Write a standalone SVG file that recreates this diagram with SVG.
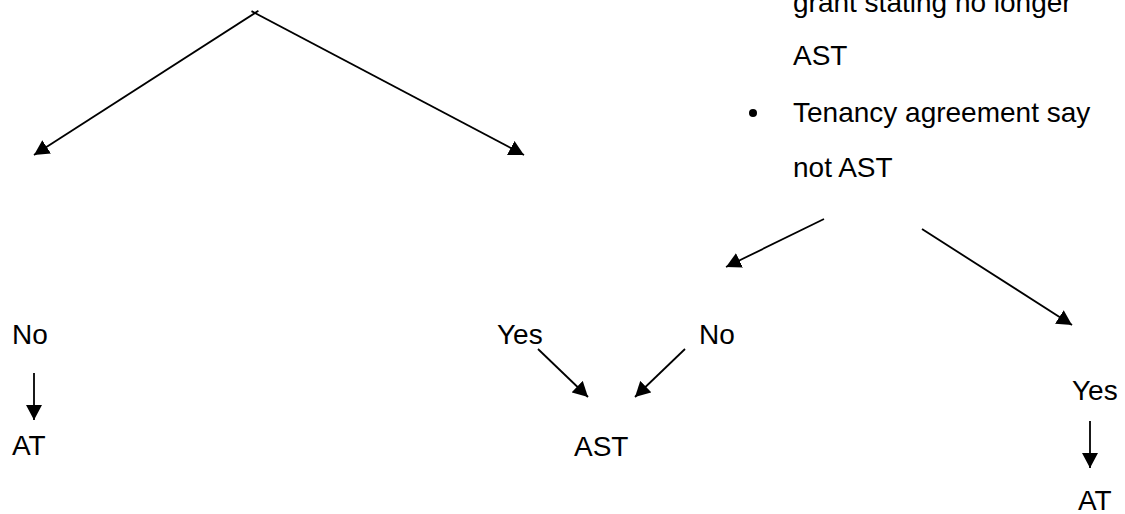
<svg xmlns="http://www.w3.org/2000/svg" width="1125" height="514" viewBox="0 0 1125 514">
<style>
text{font-family:"Liberation Sans",Arial,sans-serif;font-size:28px;fill:#000}
.c{stroke:#000;stroke-width:1.8;fill:none}
.a{marker-end:url(#ah)}
</style>
<defs>
<marker id="ah" markerUnits="userSpaceOnUse" markerWidth="16" markerHeight="17" refX="15" refY="8" orient="auto" viewBox="0 0 16 16">
<path d="M0,0 L15,8 L0,16 z" fill="#000"/>
</marker>
</defs>
<rect width="1125" height="514" fill="#fff"/>
<g id="connectors">
<line class="c a" x1="258.4" y1="10.8" x2="34" y2="155"/>
<line class="c a" x1="251.5" y1="11.1" x2="524" y2="155"/>
<line class="c a" x1="824" y1="219" x2="726" y2="267"/>
<line class="c a" x1="922" y1="229" x2="1072" y2="325"/>
<line class="c a" x1="34" y1="373" x2="34" y2="420"/>
<line class="c a" x1="538" y1="349" x2="588" y2="397"/>
<line class="c a" x1="685" y1="349" x2="635" y2="397"/>
<line class="c a" x1="1090" y1="421" x2="1090" y2="468"/>
</g>
<g id="conditions">
<text x="793" y="12">grant stating no longer</text>
<text x="793" y="65">AST</text>
<circle cx="753" cy="113" r="4" fill="#000"/>
<text x="793" y="122">Tenancy agreement say</text>
<text x="793" y="177">not AST</text>
</g>
<g id="left-no"><text x="12" y="344">No</text></g>
<g id="left-at"><text x="12" y="455">AT</text></g>
<g id="mid-yes"><text x="497" y="344">Yes</text></g>
<g id="mid-no"><text x="699" y="344">No</text></g>
<g id="mid-ast"><text x="574" y="456">AST</text></g>
<g id="right-yes"><text x="1072" y="400">Yes</text></g>
<g id="right-at"><text x="1078" y="510">AT</text></g>
</svg>
